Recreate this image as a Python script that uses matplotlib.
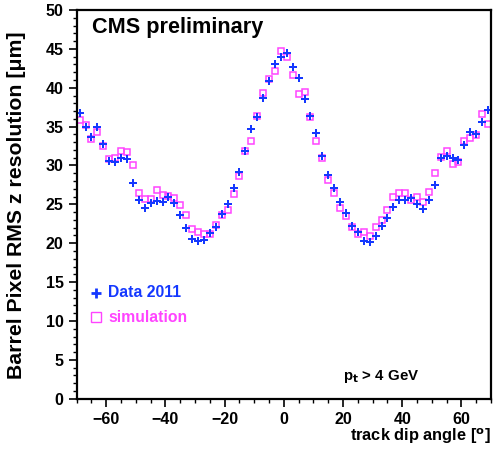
import matplotlib
matplotlib.use("Agg")
import matplotlib.pyplot as plt
from matplotlib.ticker import MultipleLocator

plt.rcParams["font.family"] = ["Liberation Sans", "DejaVu Sans"]
plt.rcParams["font.weight"] = "bold"

angles = list(range(-69, 70, 2))

data_2011 = [
    36.7, 34.9, 33.6, 35.0, 32.7, 30.6, 30.4, 31.0, 30.8, 27.8,
    25.5, 24.5, 25.2, 25.4, 25.3, 25.9, 25.2, 23.6, 22.0, 20.6,
    20.3, 20.4, 21.3, 22.1, 23.8, 25.0, 27.1, 29.1, 31.9, 34.7,
    36.3, 38.7, 40.9, 43.0, 43.9, 44.5, 42.7, 41.3, 38.6, 36.4,
    34.2, 31.2, 28.8, 27.1, 25.3, 23.9, 22.2, 21.5, 20.3, 20.2,
    20.9, 22.2, 23.3, 24.6, 25.6, 25.5, 25.8, 25.0, 24.4, 25.5,
    27.5, 30.9, 31.2, 30.9, 30.7, 32.6, 34.3, 34.1, 35.6, 37.2,
]

simulation = [
    35.8, 35.2, 33.4, 34.3, 32.5, 30.8, 31.0, 31.8, 31.7, 30.1,
    26.5, 25.7, 25.7, 26.9, 26.2, 26.1, 25.8, 24.9, 23.6, 21.8,
    21.4, 21.2, 21.2, 22.4, 23.6, 24.3, 26.3, 28.7, 31.8, 33.1,
    36.4, 39.3, 41.1, 42.1, 44.7, 44.0, 41.6, 39.2, 39.4, 36.2,
    33.2, 31.0, 28.1, 26.4, 24.5, 23.5, 22.1, 21.2, 21.4, 20.9,
    22.1, 23.0, 24.3, 26.0, 26.4, 26.4, 25.6, 26.0, 25.3, 26.6,
    29.0, 31.1, 31.8, 30.2, 30.5, 33.1, 33.5, 33.9, 36.6, 35.3,
]

blue = "#1438ff"
magenta = "#ff44ff"

fig = plt.figure(figsize=(4.94, 4.49), dpi=100)
ax = fig.add_axes([76.7 / 494, 1 - 398.7 / 449, 414.3 / 494, 388.7 / 449])

ax.plot(angles, simulation, linestyle="none", marker="s", markersize=4.7,
        markerfacecolor="none", markeredgecolor=magenta, markeredgewidth=1.1)
ax.plot(angles, data_2011, linestyle="none", marker="P", markersize=5.8,
        color=blue, markeredgewidth=0)

ax.set_xlim(-70, 70)
ax.set_ylim(0, 50)
ax.xaxis.set_major_locator(MultipleLocator(20))
ax.xaxis.set_minor_locator(MultipleLocator(5))
ax.yaxis.set_major_locator(MultipleLocator(5))
ax.yaxis.set_minor_locator(MultipleLocator(1))
ax.tick_params(which="major", direction="out", length=6, width=1.2, labelsize=11.5)
ax.tick_params(which="minor", direction="out", length=3, width=1.0)
for s in ax.spines.values():
    s.set_linewidth(1.6)

ax.text(0.037, 0.941, "CMS preliminary", transform=ax.transAxes,
        fontsize=15.6, fontweight="bold", va="baseline")

ax.plot([0.047], [0.272], transform=ax.transAxes, marker="+", markersize=7,
        markeredgewidth=2, color=blue, linestyle="none")
ax.text(0.076, 0.272, "Data 2011", transform=ax.transAxes, color=blue,
        fontsize=11.3, fontweight="bold", va="center")
ax.plot([0.047], [0.210], transform=ax.transAxes, marker="s", markersize=7,
        markerfacecolor="none", markeredgecolor=magenta, markeredgewidth=1,
        linestyle="none")
ax.text(0.076, 0.210, "simulation", transform=ax.transAxes, color=magenta,
        fontsize=11.3, fontweight="bold", va="center")

ax.text(0.643, 0.056, r"p$_{\mathbf{t}}$ > 4 GeV", transform=ax.transAxes,
        fontsize=10.8, fontweight="bold", va="center")

fig.text(491 / 494, 1 - 441 / 449, r"track dip angle [$^{\mathbf{o}}$]",
         ha="right", va="baseline", fontsize=11.8, fontweight="bold")
fig.text(17 / 494, 1 - 205 / 449, "Barrel Pixel RMS z resolution [\u03bcm]",
         rotation=90, ha="center", va="center", fontsize=15.3, fontweight="bold")

fig.savefig("out.png", dpi=100)
